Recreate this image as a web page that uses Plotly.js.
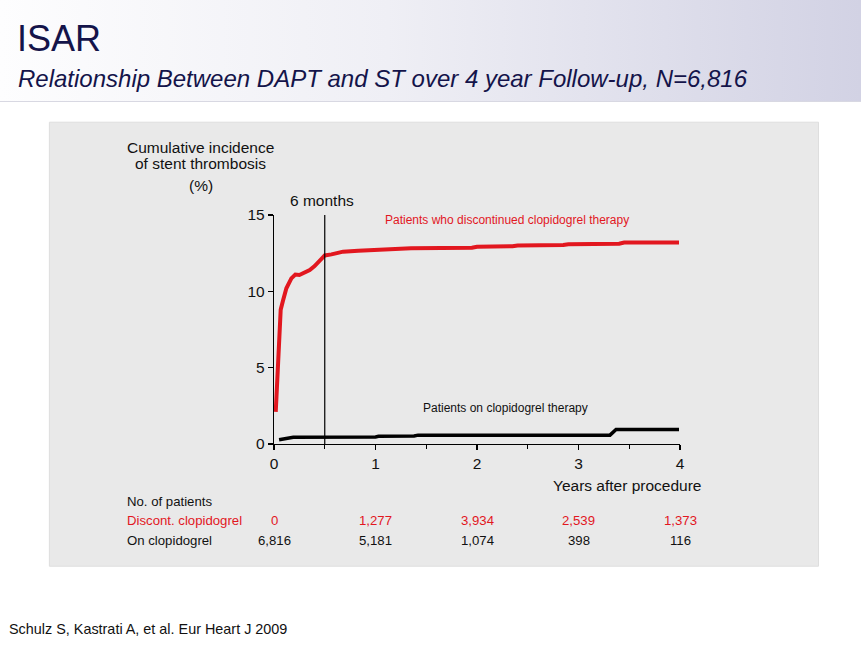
<!DOCTYPE html>
<html>
<head>
<meta charset="utf-8">
<script src="https://cdn.plot.ly/plotly-3.0.1.min.js"></script>
<style>
  html, body { margin: 0; padding: 0; background: #fff; }
  #wrap { position: relative; width: 861px; height: 645px; overflow: hidden; }
  #band { position: absolute; left: 0; top: 0; width: 861px; height: 101px;
          background: linear-gradient(to right, #fdfdfe 0%, #efeff5 45%, #d2d2e4 100%);
          border-bottom: 1px solid #d8d8e2; }
  #chart { position: absolute; left: 0; top: 0; width: 861px; height: 645px; }
</style>
</head>
<body>
<div id="wrap">
  <div id="band"></div>
  <div id="chart"></div>
</div>
<script>
// cumulative incidence (%)
var discYears = [0.017, 0.04, 0.066, 0.089, 0.122, 0.171, 0.21, 0.25, 0.303, 0.352, 0.40, 0.45, 0.50, 0.566, 0.68, 0.83, 1.0, 1.3, 1.35, 1.95, 2.0, 2.35, 2.4, 2.85, 2.9, 3.4, 3.45, 3.99];
var discPct   = [2.1, 6.0, 8.8, 9.4, 10.2, 10.85, 11.1, 11.07, 11.25, 11.4, 11.65, 12.05, 12.35, 12.42, 12.6, 12.66, 12.7, 12.75, 12.82, 12.85, 12.92, 12.95, 13.0, 13.03, 13.08, 13.12, 13.2, 13.2];

var onYears = [0.05, 0.12, 0.19, 1.0, 1.03, 1.38, 1.42, 3.31, 3.37, 3.99];
var onPct   = [0.28, 0.38, 0.44, 0.46, 0.5, 0.52, 0.58, 0.58, 0.95, 0.95];

// numbers at risk
var riskYears = [0, 1, 2, 3, 4];
var riskDisc = ['0', '1,277', '3,934', '2,539', '1,373'];
var riskOn = ['6,816', '5,181', '1,074', '398', '116'];

var yTicks = [0, 5, 10, 15];
var xTicks = [0, 1, 2, 3, 4];

var FONT = 'Arial, "Liberation Sans", sans-serif';
var RED = '#e2171f';
var INK = '#111';

// plot area in page pixels
var L = 274.3, R = 679.7, T = 215, B = 444.5;
function px(p) { return (p - L) / (R - L); }
function py(p) { return (B - p) / (B - T); }

function note(text, x, y, opts) {
    var a = {
        text: text, x: px(x), y: py(y), xref: 'paper', yref: 'paper',
        showarrow: false, xanchor: 'center', yanchor: 'middle',
        font: { family: FONT, size: 15.5, color: INK }
    };
    for (var k in opts) a[k] = opts[k];
    return a;
}

var traceDisc = {
    x: discYears, y: discPct, mode: 'lines',
    line: { color: RED, width: 4 }, hoverinfo: 'skip'
};
var traceOn = {
    x: onYears, y: onPct, mode: 'lines',
    line: { color: '#000', width: 3.5 }, hoverinfo: 'skip'
};

var annotations = [
    note('ISAR', 16, 38, { xanchor: 'left', font: { family: FONT, size: 36, color: '#14144a' } }),
    note('<i>Relationship Between DAPT and ST over 4 year Follow-up, N=6,816</i>', 17, 78,
        { xanchor: 'left', font: { family: FONT, size: 24, color: '#14144a' } }),
    note('Cumulative incidence', 201, 147),
    note('of stent thrombosis', 201, 163),
    note('(%)', 201, 185),
    note('6 months', 322, 200),
    note('Patients who discontinued clopidogrel therapy', 383, 220,
        { xanchor: 'left', font: { family: FONT, size: 12, color: RED } }),
    note('Patients on clopidogrel therapy', 421, 408,
        { xanchor: 'left', font: { family: FONT, size: 12, color: INK } }),
    note('Years after procedure', 704, 486, { xanchor: 'right' }),
    note('No. of patients', 126, 502, { xanchor: 'left', font: { family: FONT, size: 13.2, color: INK } }),
    note('Discont. clopidogrel', 126, 521, { xanchor: 'left', font: { family: FONT, size: 13.2, color: RED } }),
    note('On clopidogrel', 126, 541, { xanchor: 'left', font: { family: FONT, size: 13.2, color: INK } }),
    note('Schulz S, Kastrati A, et al. Eur Heart J 2009', 8, 630,
        { xanchor: 'left', font: { family: FONT, size: 14.4, color: INK } })
];

riskYears.forEach(function (yr, i) {
    annotations.push({
        text: riskDisc[i], x: yr, y: py(521), xref: 'x', yref: 'paper',
        showarrow: false, xanchor: 'center', yanchor: 'middle',
        font: { family: FONT, size: 13.2, color: RED }
    });
    annotations.push({
        text: riskOn[i], x: yr, y: py(541), xref: 'x', yref: 'paper',
        showarrow: false, xanchor: 'center', yanchor: 'middle',
        font: { family: FONT, size: 13.2, color: INK }
    });
});

var layout = {
    width: 861, height: 645,
    margin: { l: L, r: 861 - R, t: T, b: 645 - B, pad: 0 },
    paper_bgcolor: 'rgba(0,0,0,0)',
    plot_bgcolor: 'rgba(0,0,0,0)',
    showlegend: false,
    font: { family: FONT, size: 15.5, color: INK },
    xaxis: {
        range: [0, 4], tickvals: xTicks, ticks: 'outside', ticklen: 5, tickwidth: 1.2,
        tickcolor: '#000', showline: true, linecolor: '#000', linewidth: 1.2,
        showgrid: false, zeroline: false, fixedrange: true,
        tickfont: { family: FONT, size: 15.5, color: INK },
        minor: { dtick: 0.5, tick0: 0, ticks: 'outside', ticklen: 4, tickcolor: '#000', showgrid: false }
    },
    yaxis: {
        range: [0, 15], tickvals: yTicks, ticks: 'outside', ticklen: 5, tickwidth: 1.2,
        tickcolor: '#000', showline: true, linecolor: '#000', linewidth: 1.2,
        showgrid: false, zeroline: false, fixedrange: true,
        tickfont: { family: FONT, size: 15.5, color: INK }
    },
    shapes: [
        {
            type: 'rect', xref: 'paper', yref: 'paper', layer: 'below',
            x0: px(50), x1: px(818), y0: py(567), y1: py(122),
            fillcolor: '#e9e9e9', line: { color: '#dedede', width: 1 }
        },
        {
            type: 'line', xref: 'x', yref: 'y', x0: 0.5, x1: 0.5, y0: 0, y1: 15,
            line: { color: '#000', width: 1.2 }
        }
    ],
    annotations: annotations
};

Plotly.newPlot('chart', [traceDisc, traceOn], layout, { displayModeBar: false, staticPlot: true });
</script>
</body>
</html>
